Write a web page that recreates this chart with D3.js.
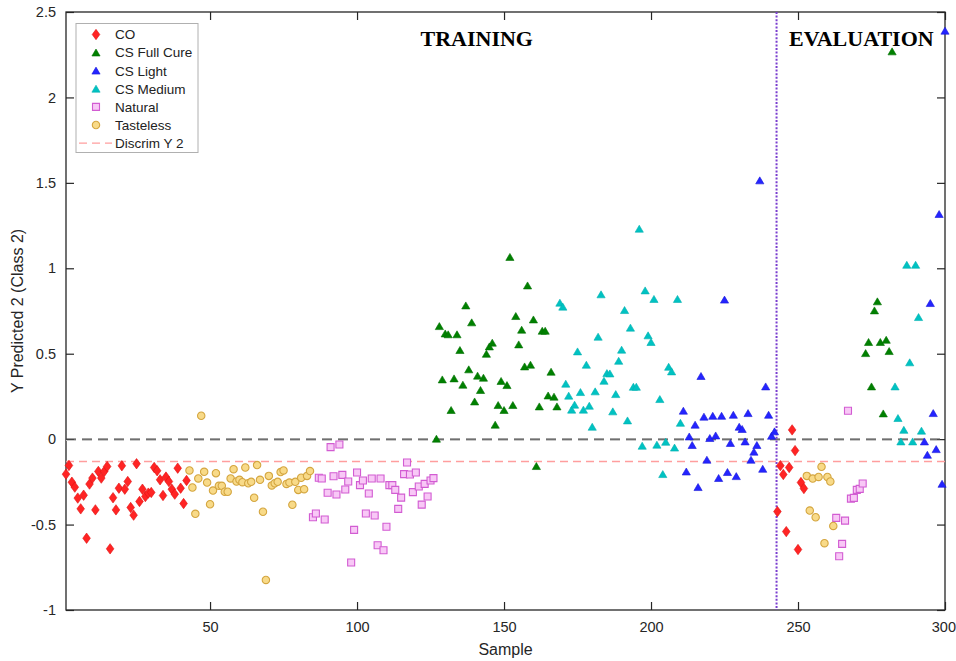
<!DOCTYPE html>
<html>
<head>
<meta charset="utf-8">
<script src="https://cdn.jsdelivr.net/npm/d3@7"></script>
<style>
    body { margin: 0; background: #fff; }
    svg { display: block; font-family: "Liberation Sans", Arial, sans-serif; }
</style>
</head>
<body>
<div id="chart"></div>
<script>
// class order used in the legend
const classNames = ["CO", "CS Full Cure", "CS Light", "CS Medium", "Natural", "Tasteless"];

// order in which the classes come along the sample axis
const trainOrder = ["CO", "Tasteless", "Natural", "CS Full Cure", "CS Medium", "CS Light"];
const evalOrder = ["CO", "Tasteless", "Natural", "CS Full Cure", "CS Medium", "CS Light"];

// Y predicted values, training part
const coTrain = [-0.205, -0.154, -0.252, -0.281, -0.345, -0.408, -0.328, -0.580, -0.263, -0.228,
    -0.414, -0.189, -0.228, -0.189, -0.160, -0.642, -0.343, -0.414, -0.287, -0.156,
    -0.293, -0.248, -0.400, -0.445, -0.144, -0.365, -0.293, -0.336, -0.316, -0.312,
    -0.166, -0.185, -0.238, -0.330, -0.222, -0.248, -0.293, -0.322, -0.170, -0.287,
    -0.377, -0.242];
const tastelessTrain = [-0.183, -0.283, -0.437, -0.230, 0.137, -0.191, -0.254, -0.381, -0.301, -0.199,
    -0.273, -0.273, -0.308, -0.308, -0.230, -0.176, -0.248, -0.238, -0.252, -0.166,
    -0.258, -0.250, -0.343, -0.152, -0.238, -0.425, -0.824, -0.215, -0.271, -0.258,
    -0.250, -0.193, -0.183, -0.262, -0.254, -0.384, -0.250, -0.297, -0.226, -0.293,
    -0.215, -0.187];
const naturalTrain = [-0.457, -0.435, -0.226, -0.230, -0.470, -0.314, -0.047, -0.217, -0.324, -0.031,
    -0.209, -0.295, -0.248, -0.722, -0.531, -0.195, -0.269, -0.242, -0.435, -0.318,
    -0.230, -0.447, -0.621, -0.230, -0.650, -0.513, -0.269, -0.269, -0.297, -0.408,
    -0.342, -0.205, -0.137, -0.207, -0.310, -0.195, -0.277, -0.383, -0.262, -0.336,
    -0.242, -0.228];
const fullCureTrain = [0.002, 0.661, 0.349, 0.618, 0.613, 0.170, 0.355, 0.613, 0.521, 0.318,
    0.782, 0.408, 0.683, 0.220, 0.371, 0.287, 0.359, 0.499, 0.542, 0.564,
    0.084, 0.199, 0.340, 0.170, 0.316, 1.066, 0.199, 0.720, 0.554, 0.640,
    0.425, 0.899, 0.435, 0.700, -0.158, 0.191, 0.634, 0.634, 0.255, 0.394,
    0.248, 0.191];
const mediumTrain = [0.798, 0.775, 0.324, 0.254, 0.172, 0.201, 0.513, 0.275, 0.172, 0.435,
    0.195, 0.072, 0.279, 0.599, 0.847, 0.341, 0.386, 0.384, 0.162, 0.263,
    0.458, 0.523, 0.755, 0.109, 0.652, 0.306, 0.306, 1.231, -0.039, 0.870,
    0.607, 0.568, 0.820, -0.033, 0.234, -0.205, -0.016, 0.423, 0.396, -0.050,
    0.820, 0.095];
const lightTrain = [0.166, -0.190, 0.015, -0.035, 0.084, -0.281, 0.369, 0.131, -0.121, 0.006,
    0.136, 0.021, -0.228, 0.136, 0.816, -0.193, -0.023, 0.142, -0.217, 0.072,
    0.059, -0.014, 0.152, -0.121, -0.074, -0.035, 1.514, -0.174, 0.308, 0.142,
    0.019, 0.045];

// Y predicted values, evaluation part
const coEval = [-0.424, -0.155, -0.207, -0.541, -0.166, 0.054, -0.067, -0.646, -0.254, -0.289];
const tastelessEval = [-0.215, -0.418, -0.231, -0.457, -0.221, -0.162, -0.609, -0.221, -0.248, -0.508];
const naturalEval = [-0.461, -0.685, -0.613, -0.477, 0.166, -0.348, -0.344, -0.297, -0.291, -0.260];
const fullCureEval = [0.503, 0.568, 0.308, 0.753, 0.806, 0.568, 0.150, 0.581, 0.515, 2.269];
const mediumEval = [0.308, 0.123, -0.014, 0.054, 1.020, 0.449, -0.014, 1.020, 0.714, 0.049];
const lightEval = [-0.014, -0.092, 0.796, 0.152, -0.059, 1.317, -0.262, 2.390];

const trainValues = {
    "CO": coTrain, "Tasteless": tastelessTrain, "Natural": naturalTrain,
    "CS Full Cure": fullCureTrain, "CS Medium": mediumTrain, "CS Light": lightTrain
};
const evalValues = {
    "CO": coEval, "Tasteless": tastelessEval, "Natural": naturalEval,
    "CS Full Cure": fullCureEval, "CS Medium": mediumEval, "CS Light": lightEval
};

const discrimY = -0.131;     // discriminant threshold
const evalSplit = 242.7;     // boundary between training and evaluation
const xTicks = [50, 100, 150, 200, 250, 300];
const yTicks = [-1, -0.5, 0, 0.5, 1, 1.5, 2, 2.5];

// marker style per class
const styles = {
    "CO": { shape: "diamond", fill: "#ff2424", stroke: "#e01010" },
    "CS Full Cure": { shape: "triangle", fill: "#008000", stroke: "#007000" },
    "CS Light": { shape: "triangle", fill: "#2424ff", stroke: "#1818d8" },
    "CS Medium": { shape: "triangle", fill: "#00c2c2", stroke: "#00b0b0" },
    "Natural": { shape: "square", fill: "#f8c8f6", stroke: "#d25cd2" },
    "Tasteless": { shape: "circle", fill: "#f8da88", stroke: "#d4a640" }
};

function markerPath(shape) {
    if (shape === "diamond") return "M0,-5.2L3.8,0L0,5.2L-3.8,0Z";
    if (shape === "triangle") return "M0,-3.6L4.1,3.4L-4.1,3.4Z";
    if (shape === "square") return "M-3.5,-3.5H3.5V3.5H-3.5Z";
    return d3.symbol(d3.symbolCircle, Math.PI * 3.7 * 3.7)();
}

// build one point per sample, counting along the axis
let points = [];
let sample = 1;
trainOrder.forEach(c => {
    trainValues[c].forEach(v => { points.push({ c: c, x: sample, y: v }); sample++; });
});
evalOrder.forEach(c => {
    evalValues[c].forEach(v => { points.push({ c: c, x: sample, y: v }); sample++; });
});

let width = 956,
    height = 661,
    margin = { top: 12, right: 11, bottom: 51, left: 66 };

let svg = d3.select("#chart")
    .append("svg")
    .attr("width", width)
    .attr("height", height);

let x = d3.scaleLinear().domain([1, 300]).range([margin.left, width - margin.right]);
let y = d3.scaleLinear().domain([-1, 2.5]).range([height - margin.bottom, margin.top]);

let axisColor = "#262626";
let fmt = d => String(d);

// axes with inward ticks, box style
let xAxisG = svg.append("g")
    .attr("transform", `translate(0,${height - margin.bottom})`)
    .call(d3.axisBottom(x).tickValues(xTicks).tickSizeInner(-8).tickSizeOuter(0).tickPadding(12).tickFormat(fmt))
    .call(g => g.select(".domain").remove());
svg.append("g")
    .attr("transform", `translate(0,${margin.top})`)
    .call(d3.axisTop(x).tickValues(xTicks).tickSizeInner(-8).tickSizeOuter(0).tickFormat(""))
    .call(g => g.select(".domain").remove());
svg.append("g")
    .attr("transform", `translate(${margin.left},0)`)
    .call(d3.axisLeft(y).tickValues(yTicks).tickSizeInner(-8).tickSizeOuter(0).tickPadding(10).tickFormat(fmt))
    .call(g => g.select(".domain").remove());
svg.append("g")
    .attr("transform", `translate(${width - margin.right},0)`)
    .call(d3.axisRight(y).tickValues(yTicks).tickSizeInner(-8).tickSizeOuter(0).tickFormat(""))
    .call(g => g.select(".domain").remove());

svg.selectAll(".tick line").attr("stroke", axisColor).attr("stroke-width", 1.2);
svg.selectAll(".tick text")
    .attr("fill", axisColor)
    .style("font-family", "'Liberation Sans', Arial, sans-serif")
    .style("font-size", "14.5px");

// the last label sits against the right edge of the figure
xAxisG.selectAll(".tick text")
    .filter(d => d === 300)
    .attr("text-anchor", "end")
    .attr("dx", width - 0.5 - x(300));

svg.append("rect")
    .attr("x", x(1))
    .attr("y", y(2.5))
    .attr("width", x(300) - x(1))
    .attr("height", y(-1) - y(2.5))
    .attr("fill", "none")
    .attr("stroke", axisColor)
    .attr("stroke-width", 1.3);

// reference lines
svg.append("line")
    .attr("x1", x(1)).attr("x2", x(300))
    .attr("y1", y(0) + 1.2).attr("y2", y(0) + 1.2)
    .attr("stroke", "#c8c8c8").attr("stroke-width", 1.3)
    .attr("stroke-dasharray", "10,6");
svg.append("line")
    .attr("x1", x(1)).attr("x2", x(300))
    .attr("y1", y(0)).attr("y2", y(0))
    .attr("stroke", "#444").attr("stroke-width", 1.2)
    .attr("stroke-dasharray", "10,6");
svg.append("line")
    .attr("x1", x(1)).attr("x2", x(300))
    .attr("y1", y(discrimY)).attr("y2", y(discrimY))
    .attr("stroke", "#ff9e9e").attr("stroke-width", 1.4)
    .attr("stroke-dasharray", "8,5");
svg.append("line")
    .attr("x1", x(evalSplit)).attr("x2", x(evalSplit))
    .attr("y1", y(2.5)).attr("y2", y(-1))
    .attr("stroke", "#7a3ecf").attr("stroke-width", 2)
    .attr("stroke-dasharray", "2,1.6");

// points
classNames.forEach(c => {
    let st = styles[c];
    svg.append("g")
        .selectAll("path")
        .data(points.filter(p => p.c === c))
        .enter()
        .append("path")
        .attr("d", markerPath(st.shape))
        .attr("transform", d => `translate(${x(d.x)},${y(d.y)})`)
        .attr("fill", st.fill)
        .attr("stroke", st.stroke)
        .attr("stroke-width", st.shape === "square" || st.shape === "circle" ? 1.1 : 0.6);
});

// section titles
svg.append("text")
    .attr("x", 420.5).attr("y", 45.5)
    .style("font-family", "'Liberation Serif', 'Times New Roman', serif")
    .style("font-weight", "bold").style("font-size", "22px")
    .attr("fill", "#000")
    .text("TRAINING");
svg.append("text")
    .attr("x", 789).attr("y", 45.5)
    .style("font-family", "'Liberation Serif', 'Times New Roman', serif")
    .style("font-weight", "bold").style("font-size", "22px")
    .attr("fill", "#000")
    .text("EVALUATION");

// axis titles
svg.append("text")
    .attr("x", (x(1) + x(300)) / 2).attr("y", 655)
    .attr("text-anchor", "middle")
    .style("font-size", "16px").attr("fill", axisColor)
    .text("Sample");
svg.append("text")
    .attr("transform", `translate(23,${(y(2.5) + y(-1)) / 2}) rotate(-90)`)
    .attr("text-anchor", "middle")
    .style("font-size", "16px").attr("fill", axisColor)
    .text("Y Predicted 2 (Class 2)");

// legend
let legend = svg.append("g");
legend.append("rect")
    .attr("x", 76).attr("y", 23.5)
    .attr("width", 122).attr("height", 129)
    .attr("fill", "#fff").attr("stroke", "#b0b0b0").attr("stroke-width", 1);

let legendItems = classNames.concat(["Discrim Y 2"]);
legendItems.forEach((name, i) => {
    let ly = 34.5 + i * 18.1;
    if (styles[name]) {
        let st = styles[name];
        legend.append("path")
            .attr("d", markerPath(st.shape))
            .attr("transform", `translate(96,${ly})`)
            .attr("fill", st.fill)
            .attr("stroke", st.stroke)
            .attr("stroke-width", st.shape === "square" || st.shape === "circle" ? 1.1 : 0.6);
    } else {
        legend.append("line")
            .attr("x1", 79).attr("x2", 112)
            .attr("y1", ly).attr("y2", ly)
            .attr("stroke", "#ff9e9e").attr("stroke-width", 1.4)
            .attr("stroke-dasharray", "8,5");
    }
    legend.append("text")
        .attr("x", 115).attr("y", ly + 4.8)
        .style("font-size", "13.5px").attr("fill", "#222")
        .text(name);
});
</script>
</body>
</html>
